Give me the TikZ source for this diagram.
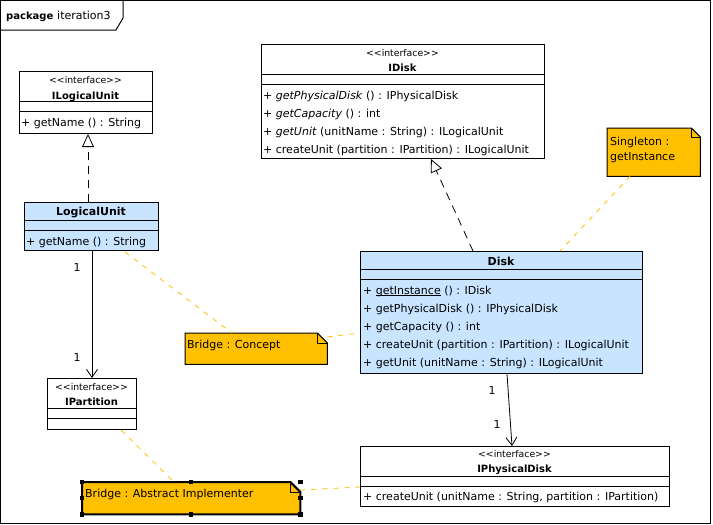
\documentclass[tikz,border=0pt]{standalone}
\usepackage{fontspec}
\setmainfont{DejaVu Sans}
\usetikzlibrary{arrows.meta,calc}
\definecolor{noteor}{RGB}{255,192,0}
\definecolor{clsblue}{RGB}{200,228,255}
\newcommand{\stereoIface}{{<}{<}interface{>}{>}}
\newcommand{\staticul}[1]{\setbox0\hbox{#1}\rlap{\rule[-1.3pt]{\wd0}{0.7pt}}#1}
\tikzset{
  clsbox/.style={draw=black,line width=1pt,inner sep=0pt,anchor=north west},
  notebg/.style={draw=none,inner sep=0pt,anchor=north west},
  notefill/.style={fill=noteor,draw=black,line width=1pt},
  row/.style={anchor=mid west,inner sep=0pt,font=\fontsize{11}{13}\selectfont},
  cname/.style={anchor=mid,inner sep=0pt,font=\fontsize{11}{13}\selectfont\bfseries},
  iname/.style={anchor=mid,inner sep=0pt,font=\fontsize{10}{12}\selectfont\bfseries},
  stereo/.style={anchor=mid,inner sep=0pt,font=\fontsize{9.3}{11}\selectfont},
  mult/.style={anchor=mid,inner sep=0pt,font=\fontsize{11}{13}\selectfont},
  realize/.style={draw=black,line width=0.8pt,dash pattern=on 8pt off 6pt,-{Triangle[open,length=13pt,width=12pt]}},
  assoc/.style={draw=black,line width=0.8pt,-{Straight Barb[length=8pt,width=11pt]}},
  anchorline/.style={draw=noteor,line width=0.8pt,dash pattern=on 5pt off 6pt},
  handle/.style={fill=black,draw=none,minimum size=4.5pt,inner sep=0pt}
}
\begin{document}
\begin{tikzpicture}[x=1pt,y=-1pt]
\useasboundingbox (0,0) rectangle (713,525);
% frame
\node[draw=none,inner sep=0pt,minimum width=710pt,minimum height=523pt,anchor=north west] (frame) at (0.5,0.5) {};
\draw[line width=1pt] (frame.north west) rectangle (frame.south east);
\coordinate (tabA) at (0.5,30);
\coordinate (tabB) at (116,30);
\coordinate (tabC) at (123,18);
\coordinate (tabD) at (123,0.5);
\draw[line width=1pt] (tabA) -- (tabB) -- (tabC) -- (tabD);
\node[anchor=mid west,inner sep=0pt,font=\fontsize{10}{12}\selectfont\bfseries] (pkg) at (6,17) {package};
\node[anchor=mid west,inner sep=0pt,font=\fontsize{11}{13}\selectfont] (pkgname) at (57,17) {iteration3};

% ILogicalUnit
\node[clsbox,fill=white,minimum width=133pt,minimum height=62pt] (ilu) at (19,71) {};
\node[stereo] (iluS) at (85.5,81) {\stereoIface};
\node[iname] (iluN) at (85.5,96.5) {ILogicalUnit};
\draw[line width=1pt] ($(ilu.north west)+(0,30)$) -- ($(ilu.north east)+(0,30)$);
\draw[line width=1pt] ($(ilu.north west)+(0,40)$) -- ($(ilu.north east)+(0,40)$);
\node[row] (iluR1) at (21,123.5) {+ getName () : String};

% LogicalUnit
\node[clsbox,fill=clsblue,minimum width=134pt,minimum height=48pt] (lu) at (24,202) {};
\node[cname] (luN) at (91,212.5) {LogicalUnit};
\draw[line width=1pt] ($(lu.north west)+(0,18)$) -- ($(lu.north east)+(0,18)$);
\draw[line width=1pt] ($(lu.north west)+(0,28)$) -- ($(lu.north east)+(0,28)$);
\node[row] (luR1) at (26,242.5) {+ getName () : String};

% IDisk
\node[clsbox,fill=white,minimum width=283pt,minimum height=114pt] (idisk) at (261,44) {};
\node[stereo] (idiskS) at (402.5,54) {\stereoIface};
\node[iname] (idiskN) at (402.5,68.5) {IDisk};
\draw[line width=1pt] ($(idisk.north west)+(0,30)$) -- ($(idisk.north east)+(0,30)$);
\draw[line width=1pt] ($(idisk.north west)+(0,40)$) -- ($(idisk.north east)+(0,40)$);
\node[row] (idiskR1) at (263,96.5) {+ \textit{getPhysicalDisk} () : IPhysicalDisk};
\node[row] (idiskR2) at (263,114.5) {+ \textit{getCapacity} () : int};
\node[row] (idiskR3) at (263,132.5) {+ \textit{getUnit} (unitName : String) : ILogicalUnit};
\node[row] (idiskR4) at (263,150.5) {+ createUnit (partition : IPartition) : ILogicalUnit};

% Disk
\node[clsbox,fill=clsblue,minimum width=282pt,minimum height=122pt] (disk) at (360,251) {};
\node[cname] (diskN) at (501,262.5) {Disk};
\draw[line width=1pt] ($(disk.north west)+(0,18)$) -- ($(disk.north east)+(0,18)$);
\draw[line width=1pt] ($(disk.north west)+(0,28)$) -- ($(disk.north east)+(0,28)$);
\node[row] (diskR1) at (363,291.5) {+ \staticul{getInstance} () : IDisk};
\node[row] (diskR2) at (363,309.5) {+ getPhysicalDisk () : IPhysicalDisk};
\node[row] (diskR3) at (363,327.5) {+ getCapacity () : int};
\node[row] (diskR4) at (363,345.5) {+ createUnit (partition : IPartition) : ILogicalUnit};
\node[row] (diskR5) at (363,363.5) {+ getUnit (unitName : String) : ILogicalUnit};

% IPartition
\node[clsbox,fill=white,minimum width=89pt,minimum height=51pt] (ipart) at (47,378) {};
\node[stereo] (ipartS) at (91.5,388) {\stereoIface};
\node[iname] (ipartN) at (91.5,402.5) {IPartition};
\draw[line width=1pt] ($(ipart.north west)+(0,30)$) -- ($(ipart.north east)+(0,30)$);
\draw[line width=1pt] ($(ipart.north west)+(0,40)$) -- ($(ipart.north east)+(0,40)$);

% IPhysicalDisk
\node[clsbox,fill=white,minimum width=309pt,minimum height=60pt] (ipd) at (360,446) {};
\node[stereo] (ipdS) at (514.5,455) {\stereoIface};
\node[iname] (ipdN) at (514.5,469.5) {IPhysicalDisk};
\draw[line width=1pt] ($(ipd.north west)+(0,30)$) -- ($(ipd.north east)+(0,30)$);
\draw[line width=1pt] ($(ipd.north west)+(0,40)$) -- ($(ipd.north east)+(0,40)$);
\node[row] (ipdR1) at (363,497.5) {+ createUnit (unitName : String, partition : IPartition)};

% Notes
% Bridge : Concept
\node[notebg,minimum width=142pt,minimum height=31pt] (concept) at (185,333) {};
\draw[notefill] (concept.north west) -- ($(concept.north east)+(-10,0)$) -- ($(concept.north east)+(0,10)$) -- (concept.south east) -- (concept.south west) -- cycle;
\draw[line width=0.8pt] ($(concept.north east)+(-10,0)$) -- ($(concept.north east)+(-10,10)$) -- ($(concept.north east)+(0,10)$);
\node[row] (conceptT) at (187,345.5) {Bridge : Concept};

% Singleton
\node[notebg,minimum width=93pt,minimum height=48pt] (single) at (607,128) {};
\draw[notefill] (single.north west) -- ($(single.north east)+(-9,0)$) -- ($(single.north east)+(0,9)$) -- (single.south east) -- (single.south west) -- cycle;
\draw[line width=0.8pt] ($(single.north east)+(-9,0)$) -- ($(single.north east)+(-9,9)$) -- ($(single.north east)+(0,9)$);
\node[row] (singleT1) at (610,142.5) {Singleton :};
\node[row] (singleT2) at (610,157.5) {getInstance};

% Bridge : Abstract Implementer (selected)
\node[notebg,minimum width=218pt,minimum height=32pt] (absimpl) at (82,482) {};
\draw[notefill,line width=2pt] (absimpl.north west) -- ($(absimpl.north east)+(-10,0)$) -- ($(absimpl.north east)+(0,10)$) -- (absimpl.south east) -- (absimpl.south west) -- cycle;
\draw[line width=0.8pt] ($(absimpl.north east)+(-10,0)$) -- ($(absimpl.north east)+(-10,10)$) -- ($(absimpl.north east)+(0,10)$);
\node[row] (absimplT) at (85,494.5) {Bridge : Abstract Implementer};
\node[handle] (h1) at (absimpl.north west) {};
\node[handle] (h2) at (absimpl.north) {};
\node[handle] (h3) at (absimpl.north east) {};
\node[handle] (h4) at (absimpl.west) {};
\node[handle] (h5) at (absimpl.east) {};
\node[handle] (h6) at (absimpl.south west) {};
\node[handle] (h7) at (absimpl.south) {};
\node[handle] (h8) at (absimpl.south east) {};

% Connectors
\draw[realize] ($(lu.north west)+(64,0)$) -- ($(ilu.south west)+(69,0)$);
\draw[realize] ($(disk.north west)+(113,0)$) -- ($(idisk.south west)+(170,0)$);
\draw[assoc] ($(lu.south west)+(68,0)$) -- ($(ipart.north west)+(45,0)$);
\node[mult] (m1) at (77,269) {1};
\node[mult] (m2) at (77,359) {1};
\draw[assoc] ($(disk.south west)+(147,0)$) -- ($(ipd.north west)+(152,0)$);
\node[mult] (m3) at (492,392) {1};
\node[mult] (m4) at (497,426) {1};

% Note anchors
\draw[anchorline] ($(lu.south west)+(101,1)$) -- ($(concept.north west)+(47,0)$);
\draw[anchorline] ($(concept.north east)+(0,4)$) -- ($(disk.north west)+(0,82)$);
\draw[anchorline] ($(single.south west)+(23,0)$) -- ($(disk.north west)+(200,0)$);
\draw[anchorline] ($(ipart.south west)+(74,0)$) -- ($(absimpl.north west)+(92,0)$);
\draw[anchorline] ($(absimpl.north east)+(0,8)$) -- ($(ipd.north west)+(0,41)$);
\end{tikzpicture}
\end{document}
